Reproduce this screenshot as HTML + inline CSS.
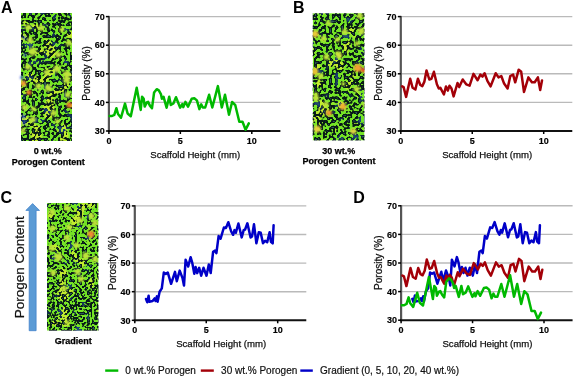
<!DOCTYPE html>
<html><head><meta charset="utf-8"><style>
html,body{margin:0;padding:0;background:#fff;width:575px;height:378px;overflow:hidden}
svg{display:block;will-change:transform}
text{font-family:"Liberation Sans", sans-serif;fill:#000}
.pl{font-size:16px;font-weight:bold}
.tl{font-size:9px;font-weight:bold;stroke:#000;stroke-width:0.15px}
.at{font-size:9.6px;fill:#111;stroke:#111;stroke-width:0.25px}
.at2{font-size:10px;fill:#111;stroke:#111;stroke-width:0.25px}
.cap{font-size:9px;font-weight:bold;stroke:#000;stroke-width:0.25px}
.big{font-size:13.5px;fill:#111;stroke:#111;stroke-width:0.2px}
.lg{font-size:10px;fill:#111;stroke:#111;stroke-width:0.2px}
</style></head><body>
<svg width="575" height="378" viewBox="0 0 575 378">
<defs>
<filter id="fa" x="0" y="0" width="1" height="1" color-interpolation-filters="sRGB">
<feTurbulence type="fractalNoise" baseFrequency="0.340" numOctaves="1" seed="2" result="n1"/>
<feTurbulence type="fractalNoise" baseFrequency="0.07" numOctaves="2" seed="9" result="n2"/>
<feTurbulence type="fractalNoise" baseFrequency="0.12" numOctaves="1" seed="15" result="n3"/>
<feColorMatrix in="n2" type="matrix" values="0 0 0 0 0.76  0 0 0 0 0.92  0 0 0 0 0.18  9 0 0 0 -5.20" result="yel"/>
<feComposite in="yel" in2="SourceGraphic" operator="over" result="base"/>
<feColorMatrix in="n1" type="matrix" values="0 0 0 0 0.03  0 0 0 0 0.10  0 0 0 0 0.09  -16 0 0 0 8.560" result="dk"/>
<feColorMatrix in="n1" type="matrix" values="0 0 0 0 0.16  0 0 0 0 0.34  0 0 0 0 0.36  -20 0 0 0 6.300" result="ct"/>
<feColorMatrix in="n3" type="matrix" values="0 0 0 0 0.10  0 0 0 0 0.26  0 0 0 0 0.50  5 0 0 0 -2.8" result="bl"/>
<feComposite in="bl" in2="dk" operator="in" result="bl2"/>
<feComposite in="dk" in2="base" operator="over" result="m"/>
<feComposite in="bl2" in2="m" operator="over" result="m2"/>
<feComposite in="ct" in2="m2" operator="over" result="m3"/>
<feGaussianBlur in="m3" stdDeviation="0.75" result="bm"/>
<feComposite in="bm" in2="SourceGraphic" operator="in"/>
</filter>
<filter id="fb" x="0" y="0" width="1" height="1" color-interpolation-filters="sRGB">
<feTurbulence type="fractalNoise" baseFrequency="0.340" numOctaves="1" seed="5" result="n1"/>
<feTurbulence type="fractalNoise" baseFrequency="0.07" numOctaves="2" seed="12" result="n2"/>
<feTurbulence type="fractalNoise" baseFrequency="0.12" numOctaves="1" seed="18" result="n3"/>
<feColorMatrix in="n2" type="matrix" values="0 0 0 0 0.76  0 0 0 0 0.92  0 0 0 0 0.18  9 0 0 0 -5.20" result="yel"/>
<feComposite in="yel" in2="SourceGraphic" operator="over" result="base"/>
<feColorMatrix in="n1" type="matrix" values="0 0 0 0 0.03  0 0 0 0 0.10  0 0 0 0 0.09  -16 0 0 0 8.560" result="dk"/>
<feColorMatrix in="n1" type="matrix" values="0 0 0 0 0.16  0 0 0 0 0.34  0 0 0 0 0.36  -20 0 0 0 6.300" result="ct"/>
<feColorMatrix in="n3" type="matrix" values="0 0 0 0 0.10  0 0 0 0 0.26  0 0 0 0 0.50  5 0 0 0 -2.8" result="bl"/>
<feComposite in="bl" in2="dk" operator="in" result="bl2"/>
<feComposite in="dk" in2="base" operator="over" result="m"/>
<feComposite in="bl2" in2="m" operator="over" result="m2"/>
<feComposite in="ct" in2="m2" operator="over" result="m3"/>
<feGaussianBlur in="m3" stdDeviation="0.75" result="bm"/>
<feComposite in="bm" in2="SourceGraphic" operator="in"/>
</filter>
<filter id="fc1" x="0" y="0" width="1" height="1" color-interpolation-filters="sRGB">
<feTurbulence type="fractalNoise" baseFrequency="0.400" numOctaves="1" seed="9" result="n1"/>
<feTurbulence type="fractalNoise" baseFrequency="0.07" numOctaves="2" seed="16" result="n2"/>
<feTurbulence type="fractalNoise" baseFrequency="0.12" numOctaves="1" seed="22" result="n3"/>
<feColorMatrix in="n2" type="matrix" values="0 0 0 0 0.76  0 0 0 0 0.92  0 0 0 0 0.18  9 0 0 0 -5.20" result="yel"/>
<feComposite in="yel" in2="SourceGraphic" operator="over" result="base"/>
<feColorMatrix in="n1" type="matrix" values="0 0 0 0 0.03  0 0 0 0 0.10  0 0 0 0 0.09  -16 0 0 0 7.840" result="dk"/>
<feColorMatrix in="n1" type="matrix" values="0 0 0 0 0.16  0 0 0 0 0.34  0 0 0 0 0.36  -20 0 0 0 5.400" result="ct"/>
<feColorMatrix in="n3" type="matrix" values="0 0 0 0 0.10  0 0 0 0 0.26  0 0 0 0 0.50  5 0 0 0 -2.8" result="bl"/>
<feComposite in="bl" in2="dk" operator="in" result="bl2"/>
<feComposite in="dk" in2="base" operator="over" result="m"/>
<feComposite in="bl2" in2="m" operator="over" result="m2"/>
<feComposite in="ct" in2="m2" operator="over" result="m3"/>
<feGaussianBlur in="m3" stdDeviation="0.75" result="bm"/>
<feComposite in="bm" in2="SourceGraphic" operator="in"/>
</filter>
<filter id="fc2" x="0" y="0" width="1" height="1" color-interpolation-filters="sRGB">
<feTurbulence type="fractalNoise" baseFrequency="0.400" numOctaves="1" seed="9" result="n1"/>
<feTurbulence type="fractalNoise" baseFrequency="0.07" numOctaves="2" seed="16" result="n2"/>
<feTurbulence type="fractalNoise" baseFrequency="0.12" numOctaves="1" seed="22" result="n3"/>
<feColorMatrix in="n2" type="matrix" values="0 0 0 0 0.76  0 0 0 0 0.92  0 0 0 0 0.18  9 0 0 0 -5.20" result="yel"/>
<feComposite in="yel" in2="SourceGraphic" operator="over" result="base"/>
<feColorMatrix in="n1" type="matrix" values="0 0 0 0 0.03  0 0 0 0 0.10  0 0 0 0 0.09  -16 0 0 0 8.240" result="dk"/>
<feColorMatrix in="n1" type="matrix" values="0 0 0 0 0.16  0 0 0 0 0.34  0 0 0 0 0.36  -20 0 0 0 5.900" result="ct"/>
<feColorMatrix in="n3" type="matrix" values="0 0 0 0 0.10  0 0 0 0 0.26  0 0 0 0 0.50  5 0 0 0 -2.8" result="bl"/>
<feComposite in="bl" in2="dk" operator="in" result="bl2"/>
<feComposite in="dk" in2="base" operator="over" result="m"/>
<feComposite in="bl2" in2="m" operator="over" result="m2"/>
<feComposite in="ct" in2="m2" operator="over" result="m3"/>
<feGaussianBlur in="m3" stdDeviation="0.75" result="bm"/>
<feComposite in="bm" in2="SourceGraphic" operator="in"/>
</filter>
<filter id="fc3" x="0" y="0" width="1" height="1" color-interpolation-filters="sRGB">
<feTurbulence type="fractalNoise" baseFrequency="0.400" numOctaves="1" seed="9" result="n1"/>
<feTurbulence type="fractalNoise" baseFrequency="0.07" numOctaves="2" seed="16" result="n2"/>
<feTurbulence type="fractalNoise" baseFrequency="0.12" numOctaves="1" seed="22" result="n3"/>
<feColorMatrix in="n2" type="matrix" values="0 0 0 0 0.76  0 0 0 0 0.92  0 0 0 0 0.18  9 0 0 0 -5.20" result="yel"/>
<feComposite in="yel" in2="SourceGraphic" operator="over" result="base"/>
<feColorMatrix in="n1" type="matrix" values="0 0 0 0 0.03  0 0 0 0 0.10  0 0 0 0 0.09  -16 0 0 0 8.640" result="dk"/>
<feColorMatrix in="n1" type="matrix" values="0 0 0 0 0.16  0 0 0 0 0.34  0 0 0 0 0.36  -20 0 0 0 6.400" result="ct"/>
<feColorMatrix in="n3" type="matrix" values="0 0 0 0 0.10  0 0 0 0 0.26  0 0 0 0 0.50  5 0 0 0 -2.8" result="bl"/>
<feComposite in="bl" in2="dk" operator="in" result="bl2"/>
<feComposite in="dk" in2="base" operator="over" result="m"/>
<feComposite in="bl2" in2="m" operator="over" result="m2"/>
<feComposite in="ct" in2="m2" operator="over" result="m3"/>
<feGaussianBlur in="m3" stdDeviation="0.75" result="bm"/>
<feComposite in="bm" in2="SourceGraphic" operator="in"/>
</filter>
<filter id="sb" x="-1" y="-1" width="3" height="3"><feGaussianBlur stdDeviation="0.9"/></filter>
<path id="pg" d="M0.7 -14.9 L3.1 -15.0 L5.4 -16.2 L7.5 -22.8 L9.1 -17.0 L12.1 -13.3 L16.1 -27.4 L18.7 -17.5 L21.9 -14.7 L27.8 -43.3 L31.8 -21.1 L33.2 -34.3 L34.8 -32.2 L35.8 -24.4 L37.9 -28.6 L39.2 -29.1 L41.0 -25.4 L43.1 -22.8 L45.2 -38.5 L47.8 -41.8 L49.9 -40.6 L52.0 -36.9 L53.0 -32.2 L54.6 -34.3 L57.7 -23.3 L60.3 -34.3 L61.9 -26.0 L64.5 -27.5 L67.1 -33.8 L71.3 -23.3 L73.4 -27.0 L74.4 -23.9 L76.5 -29.1 L79.1 -24.4 L82.8 -32.2 L85.4 -32.7 L88.0 -30.6 L90.5 -21.9 L92.3 -26.6 L93.9 -23.5 L96.3 -23.5 L100.2 -36.2 L103.4 -23.5 L109.0 -44.9 L112.9 -23.5 L116.1 -36.2 L120.1 -16.3 L123.2 -29.0 L126.4 -25.8 L130.4 -9.2 L133.6 -9.2 L136.7 -1.2 L139.9 -7.6"/>
<path id="pr" d="M1.4 -44.6 L2.8 -43.9 L5.3 -34.1 L9.4 -52.2 L11.8 -43.2 L14.6 -41.5 L17.1 -52.2 L19.5 -46.0 L21.5 -44.9 L23.6 -49.4 L25.7 -60.6 L28.5 -51.5 L30.6 -52.2 L33.1 -59.2 L36.1 -46.7 L38.0 -42.5 L39.6 -43.2 L43.1 -36.5 L45.2 -44.6 L47.0 -40.4 L48.7 -45.3 L50.7 -42.5 L52.8 -34.6 L56.7 -48.0 L58.4 -43.9 L61.9 -51.5 L65.4 -46.7 L68.8 -45.3 L72.7 -57.1 L76.8 -50.8 L79.6 -56.4 L81.7 -54.3 L83.8 -57.8 L86.6 -50.1 L89.8 -44.6 L94.9 -57.8 L97.7 -53.6 L100.5 -55.0 L103.3 -47.4 L106.8 -42.5 L109.5 -55.0 L112.3 -56.4 L114.4 -48.7 L117.9 -61.3 L120.4 -59.2 L123.2 -39.0 L127.6 -53.6 L131.1 -48.7 L133.9 -48.7 L137.1 -53.6 L139.4 -41.1 L141.2 -50.4"/>
<path id="pb" d="M11.2 -21.3 L12.5 -18.0 L13.8 -24.6 L14.5 -18.6 L17.8 -19.3 L19.8 -21.9 L20.8 -19.3 L22.1 -23.9 L22.8 -18.6 L24.8 -28.6 L27.0 -31.9 L29.0 -47.7 L31.0 -46.4 L33.0 -47.7 L36.3 -36.5 L40.2 -48.4 L42.0 -39.1 L44.9 -49.7 L47.8 -41.9 L49.2 -34.7 L50.8 -60.5 L53.4 -53.8 L55.8 -63.1 L57.4 -57.8 L59.5 -46.6 L60.8 -53.2 L62.4 -47.2 L64.4 -52.5 L66.4 -44.6 L68.7 -52.5 L71.7 -44.6 L74.0 -55.8 L75.9 -47.2 L78.3 -68.4 L80.3 -69.7 L81.6 -67.1 L83.8 -84.2 L85.8 -81.6 L89.1 -92.8 L91.1 -92.2 L93.5 -98.1 L96.4 -88.8 L98.3 -85.5 L99.7 -90.2 L101.0 -87.5 L103.6 -96.8 L106.9 -82.9 L108.9 -90.2 L110.3 -90.8 L112.6 -97.0 L115.8 -82.8 L117.2 -83.8 L119.2 -96.0 L121.6 -77.0 L124.0 -88.1 L125.9 -87.5 L128.2 -77.0 L130.3 -79.6 L132.4 -78.0 L134.8 -88.1 L136.1 -78.6 L137.9 -77.0 L138.8 -95.0"/>
</defs>
<rect width="575" height="378" fill="#fff"/>
<text x="1" y="12.6" class="pl">A</text>
<text x="293" y="12.5" class="pl">B</text>
<text x="0.6" y="202.5" class="pl">C</text>
<text x="353.3" y="202.5" class="pl">D</text>
<filter id="pblur" x="-0.2" y="-0.2" width="1.4" height="1.4"><feGaussianBlur stdDeviation="0.9"/></filter>
<clipPath id="ca"><rect x="21" y="13" width="51" height="128"/></clipPath><rect x="21" y="13" width="51" height="128" fill="#74e426" filter="url(#fa)"/><g clip-path="url(#ca)"><g filter="url(#pblur)"><circle cx="28.3" cy="27.2" r="3" fill="#bfe23a"/><circle cx="41" cy="27.9" r="3" fill="#bfe23a"/><circle cx="61.9" cy="29.8" r="2.5" fill="#bfe23a"/><circle cx="68.9" cy="43.1" r="3" fill="#bfe23a"/><circle cx="32.7" cy="51.4" r="4" fill="#bfe23a"/><circle cx="58.1" cy="54.6" r="3" fill="#bfe23a"/><circle cx="30.2" cy="40.6" r="3" fill="#bfe23a"/><circle cx="27.8" cy="66.9" r="3" fill="#bfe23a"/><circle cx="46.7" cy="72.4" r="3" fill="#bfe23a"/><circle cx="56.7" cy="69.1" r="3.5" fill="#bfe23a"/><circle cx="66.7" cy="74" r="3.5" fill="#bfe23a"/><circle cx="66.7" cy="80" r="3.5" fill="#bfe23a"/><circle cx="38.3" cy="86.3" r="3" fill="#bfe23a"/><circle cx="48.3" cy="88" r="3.5" fill="#bfe23a"/><circle cx="67.8" cy="94.7" r="3" fill="#bfe23a"/><circle cx="24.7" cy="107.3" r="3" fill="#bfe23a"/><circle cx="33.4" cy="109" r="2.5" fill="#bfe23a"/><circle cx="53.7" cy="113.1" r="3" fill="#bfe23a"/><circle cx="32.8" cy="119.5" r="3" fill="#bfe23a"/><circle cx="57.2" cy="121.3" r="2.5" fill="#bfe23a"/><circle cx="22.9" cy="130.6" r="2.5" fill="#bfe23a"/><circle cx="23.3" cy="83.6" r="3" fill="#f0a030"/><circle cx="28.9" cy="92.4" r="2.6" fill="#e87a28"/><circle cx="69.4" cy="105" r="3" fill="#e87a28"/></g></g>
<clipPath id="cb"><rect x="312.7" y="13.2" width="51.8" height="127.3"/></clipPath><rect x="312.7" y="13.2" width="51.8" height="127.3" fill="#74e426" filter="url(#fb)"/><g clip-path="url(#cb)"><g filter="url(#pblur)"><circle cx="315.2" cy="34.1" r="3.5" fill="#e8c838"/><circle cx="360" cy="16" r="3" fill="#bfe23a"/><circle cx="361.2" cy="31.2" r="3.5" fill="#bfe23a"/><circle cx="344.9" cy="31.8" r="3" fill="#bfe23a"/><circle cx="323.4" cy="38.8" r="3" fill="#bfe23a"/><circle cx="337.4" cy="39.4" r="2.5" fill="#bfe23a"/><circle cx="357.1" cy="43.4" r="2.5" fill="#bfe23a"/><circle cx="338" cy="53.9" r="3" fill="#bfe23a"/><circle cx="328.6" cy="23.1" r="2.5" fill="#bfe23a"/><circle cx="339.1" cy="55.7" r="3" fill="#d2e03c"/><circle cx="357.7" cy="68" r="4" fill="#f0a030"/><circle cx="363.5" cy="70.3" r="2.5" fill="#e85020"/><circle cx="314.7" cy="71.5" r="3.5" fill="#e8c030"/><circle cx="320.5" cy="76.1" r="3" fill="#bfe23a"/><circle cx="326.3" cy="56.9" r="3" fill="#bfe23a"/><circle cx="343.2" cy="83.7" r="2" fill="#bfe23a"/><circle cx="356.6" cy="88.9" r="3" fill="#bfe23a"/><circle cx="315.8" cy="94.7" r="2.5" fill="#bfe23a"/><circle cx="342.9" cy="106.4" r="3.5" fill="#f0b030"/><circle cx="328.9" cy="113" r="3" fill="#f09a30"/><circle cx="317.3" cy="128.9" r="3.5" fill="#e8d040"/><circle cx="353.2" cy="131.3" r="3" fill="#e0d040"/><circle cx="325.8" cy="104.5" r="3" fill="#bfe23a"/><circle cx="316.1" cy="98.4" r="3" fill="#bfe23a"/><circle cx="363.6" cy="103.9" r="2" fill="#bfe23a"/></g></g>
<clipPath id="cc1"><rect x="47" y="203" width="51.5" height="42"/></clipPath><rect x="47" y="203" width="51.5" height="42" fill="#74e426" filter="url(#fc1)"/><g clip-path="url(#cc1)"><g filter="url(#pblur)"><circle cx="52" cy="212" r="3" fill="#bfe23a"/><circle cx="67.1" cy="208" r="3" fill="#bfe23a"/><circle cx="79.9" cy="220.2" r="3" fill="#bfe23a"/><circle cx="91.6" cy="216.1" r="3" fill="#bfe23a"/><circle cx="95" cy="223.1" r="3" fill="#bfe23a"/><circle cx="52.6" cy="228.4" r="3" fill="#bfe23a"/><circle cx="69.4" cy="227.2" r="3" fill="#bfe23a"/><circle cx="67.1" cy="237.7" r="3" fill="#bfe23a"/><circle cx="91" cy="234.2" r="3.5" fill="#f08a30"/><circle cx="52" cy="248.2" r="3" fill="#bfe23a"/><circle cx="76.4" cy="245.3" r="3" fill="#bfe23a"/></g></g>
<clipPath id="cc2"><rect x="47" y="245" width="51.5" height="42"/></clipPath><rect x="47" y="245" width="51.5" height="42" fill="#74e426" filter="url(#fc2)"/><g clip-path="url(#cc2)"><g filter="url(#pblur)"><circle cx="58.4" cy="257" r="4" fill="#bfe23a"/><circle cx="85.7" cy="255.8" r="3.5" fill="#bfe23a"/><circle cx="95" cy="259.3" r="3" fill="#bfe23a"/><circle cx="77.6" cy="272.1" r="3" fill="#bfe23a"/><circle cx="53.1" cy="272.7" r="3" fill="#bfe23a"/><circle cx="81.1" cy="279.1" r="3" fill="#bfe23a"/><circle cx="52" cy="248.2" r="3" fill="#bfe23a"/><circle cx="76.4" cy="245.3" r="3" fill="#bfe23a"/><circle cx="64" cy="288.8" r="3" fill="#bfe23a"/></g></g>
<clipPath id="cc3"><rect x="47" y="287" width="51.5" height="43.7"/></clipPath><rect x="47" y="287" width="51.5" height="43.7" fill="#74e426" filter="url(#fc3)"/><g clip-path="url(#cc3)"><g filter="url(#pblur)"><circle cx="64" cy="288.8" r="3" fill="#bfe23a"/><circle cx="67.2" cy="322.5" r="2.5" fill="#bfe23a"/></g></g>
<g filter="url(#sb)"><circle cx="24" cy="37.8" r="1.5" fill="#2040d0"/><circle cx="25" cy="55" r="1.4" fill="#2040d0"/><circle cx="21.8" cy="77.4" r="1.6" fill="#2040d0"/><circle cx="23.5" cy="116.6" r="1.8" fill="#2040d0"/><circle cx="24" cy="123" r="1.5" fill="#2040d0"/></g>
<text x="47.8" y="154.1" text-anchor="middle" class="cap">0 wt.%</text>
<text x="48.3" y="164.6" text-anchor="middle" class="cap">Porogen Content</text>
<text x="338.8" y="153.9" text-anchor="middle" class="cap">30 wt.%</text>
<text x="339" y="164.3" text-anchor="middle" class="cap">Porogen Content</text>
<text x="73.3" y="343.9" text-anchor="middle" class="cap">Gradient</text>
<path d="M29.2 330.7 L29.2 210.4 L25.9 210.4 L32.6 203.6 L39.5 210.4 L36.1 210.4 L36.1 330.7 Z" fill="#5b9bd5" stroke="#4283cc" stroke-width="0.8" stroke-linejoin="miter"/>
<text transform="translate(24.4 267.3) rotate(-90)" text-anchor="middle" class="big">Porogen Content</text>
<line x1="108.9" y1="102.40" x2="280.4" y2="102.40" stroke="#bababa" stroke-width="1.4"/>
<line x1="108.9" y1="73.80" x2="280.4" y2="73.80" stroke="#bababa" stroke-width="1.4"/>
<line x1="108.9" y1="45.20" x2="280.4" y2="45.20" stroke="#bababa" stroke-width="1.4"/>
<line x1="108.9" y1="16.60" x2="280.4" y2="16.60" stroke="#bababa" stroke-width="1.4"/>
<line x1="108.90" y1="15.90" x2="108.90" y2="132.00" stroke="#555" stroke-width="2.2"/>
<line x1="107.90" y1="131.00" x2="280.38" y2="131.00" stroke="#111" stroke-width="2.1"/>
<line x1="105.90" y1="131.00" x2="108.90" y2="131.00" stroke="#000" stroke-width="1.5"/>
<text x="104.70" y="134.20" text-anchor="end" class="tl">30</text>
<line x1="105.90" y1="102.40" x2="108.90" y2="102.40" stroke="#000" stroke-width="1.5"/>
<text x="104.70" y="105.60" text-anchor="end" class="tl">40</text>
<line x1="105.90" y1="73.80" x2="108.90" y2="73.80" stroke="#000" stroke-width="1.5"/>
<text x="104.70" y="77.00" text-anchor="end" class="tl">50</text>
<line x1="105.90" y1="45.20" x2="108.90" y2="45.20" stroke="#000" stroke-width="1.5"/>
<text x="104.70" y="48.40" text-anchor="end" class="tl">60</text>
<line x1="105.90" y1="16.60" x2="108.90" y2="16.60" stroke="#000" stroke-width="1.5"/>
<text x="104.70" y="19.80" text-anchor="end" class="tl">70</text>
<line x1="108.90" y1="131.00" x2="108.90" y2="134.00" stroke="#000" stroke-width="1.5"/>
<text x="108.90" y="144.00" text-anchor="middle" class="tl">0</text>
<line x1="180.35" y1="131.00" x2="180.35" y2="134.00" stroke="#000" stroke-width="1.5"/>
<text x="180.35" y="144.00" text-anchor="middle" class="tl">5</text>
<line x1="251.80" y1="131.00" x2="251.80" y2="134.00" stroke="#000" stroke-width="1.5"/>
<text x="251.80" y="144.00" text-anchor="middle" class="tl">10</text>
<text x="195.24" y="157.60" text-anchor="middle" class="at">Scaffold Height (mm)</text>
<text transform="translate(89.60 73.50) rotate(-90)" text-anchor="middle" class="at2">Porosity (%)</text>
<line x1="400.8" y1="102.40" x2="572.3" y2="102.40" stroke="#bababa" stroke-width="1.4"/>
<line x1="400.8" y1="73.80" x2="572.3" y2="73.80" stroke="#bababa" stroke-width="1.4"/>
<line x1="400.8" y1="45.20" x2="572.3" y2="45.20" stroke="#bababa" stroke-width="1.4"/>
<line x1="400.8" y1="16.60" x2="572.3" y2="16.60" stroke="#bababa" stroke-width="1.4"/>
<line x1="400.80" y1="15.90" x2="400.80" y2="132.00" stroke="#555" stroke-width="2.2"/>
<line x1="399.80" y1="131.00" x2="572.28" y2="131.00" stroke="#111" stroke-width="2.1"/>
<line x1="397.80" y1="131.00" x2="400.80" y2="131.00" stroke="#000" stroke-width="1.5"/>
<text x="396.60" y="134.20" text-anchor="end" class="tl">30</text>
<line x1="397.80" y1="102.40" x2="400.80" y2="102.40" stroke="#000" stroke-width="1.5"/>
<text x="396.60" y="105.60" text-anchor="end" class="tl">40</text>
<line x1="397.80" y1="73.80" x2="400.80" y2="73.80" stroke="#000" stroke-width="1.5"/>
<text x="396.60" y="77.00" text-anchor="end" class="tl">50</text>
<line x1="397.80" y1="45.20" x2="400.80" y2="45.20" stroke="#000" stroke-width="1.5"/>
<text x="396.60" y="48.40" text-anchor="end" class="tl">60</text>
<line x1="397.80" y1="16.60" x2="400.80" y2="16.60" stroke="#000" stroke-width="1.5"/>
<text x="396.60" y="19.80" text-anchor="end" class="tl">70</text>
<line x1="400.80" y1="131.00" x2="400.80" y2="134.00" stroke="#000" stroke-width="1.5"/>
<text x="400.80" y="144.00" text-anchor="middle" class="tl">0</text>
<line x1="472.25" y1="131.00" x2="472.25" y2="134.00" stroke="#000" stroke-width="1.5"/>
<text x="472.25" y="144.00" text-anchor="middle" class="tl">5</text>
<line x1="543.70" y1="131.00" x2="543.70" y2="134.00" stroke="#000" stroke-width="1.5"/>
<text x="543.70" y="144.00" text-anchor="middle" class="tl">10</text>
<text x="487.14" y="157.60" text-anchor="middle" class="at">Scaffold Height (mm)</text>
<text transform="translate(381.50 73.50) rotate(-90)" text-anchor="middle" class="at2">Porosity (%)</text>
<line x1="134.8" y1="291.70" x2="306.3" y2="291.70" stroke="#bababa" stroke-width="1.4"/>
<line x1="134.8" y1="263.10" x2="306.3" y2="263.10" stroke="#bababa" stroke-width="1.4"/>
<line x1="134.8" y1="234.50" x2="306.3" y2="234.50" stroke="#bababa" stroke-width="1.4"/>
<line x1="134.8" y1="205.90" x2="306.3" y2="205.90" stroke="#bababa" stroke-width="1.4"/>
<line x1="134.80" y1="205.20" x2="134.80" y2="321.30" stroke="#555" stroke-width="2.2"/>
<line x1="133.80" y1="320.30" x2="306.28" y2="320.30" stroke="#111" stroke-width="2.1"/>
<line x1="131.80" y1="320.30" x2="134.80" y2="320.30" stroke="#000" stroke-width="1.5"/>
<text x="130.60" y="323.50" text-anchor="end" class="tl">30</text>
<line x1="131.80" y1="291.70" x2="134.80" y2="291.70" stroke="#000" stroke-width="1.5"/>
<text x="130.60" y="294.90" text-anchor="end" class="tl">40</text>
<line x1="131.80" y1="263.10" x2="134.80" y2="263.10" stroke="#000" stroke-width="1.5"/>
<text x="130.60" y="266.30" text-anchor="end" class="tl">50</text>
<line x1="131.80" y1="234.50" x2="134.80" y2="234.50" stroke="#000" stroke-width="1.5"/>
<text x="130.60" y="237.70" text-anchor="end" class="tl">60</text>
<line x1="131.80" y1="205.90" x2="134.80" y2="205.90" stroke="#000" stroke-width="1.5"/>
<text x="130.60" y="209.10" text-anchor="end" class="tl">70</text>
<line x1="134.80" y1="320.30" x2="134.80" y2="323.30" stroke="#000" stroke-width="1.5"/>
<text x="134.80" y="333.30" text-anchor="middle" class="tl">0</text>
<line x1="206.25" y1="320.30" x2="206.25" y2="323.30" stroke="#000" stroke-width="1.5"/>
<text x="206.25" y="333.30" text-anchor="middle" class="tl">5</text>
<line x1="277.70" y1="320.30" x2="277.70" y2="323.30" stroke="#000" stroke-width="1.5"/>
<text x="277.70" y="333.30" text-anchor="middle" class="tl">10</text>
<text x="221.14" y="347.30" text-anchor="middle" class="at">Scaffold Height (mm)</text>
<text transform="translate(115.50 262.80) rotate(-90)" text-anchor="middle" class="at2">Porosity (%)</text>
<line x1="401.1" y1="291.60" x2="572.6" y2="291.60" stroke="#bababa" stroke-width="1.4"/>
<line x1="401.1" y1="263.00" x2="572.6" y2="263.00" stroke="#bababa" stroke-width="1.4"/>
<line x1="401.1" y1="234.40" x2="572.6" y2="234.40" stroke="#bababa" stroke-width="1.4"/>
<line x1="401.1" y1="205.80" x2="572.6" y2="205.80" stroke="#bababa" stroke-width="1.4"/>
<line x1="401.10" y1="205.10" x2="401.10" y2="321.20" stroke="#555" stroke-width="2.2"/>
<line x1="400.10" y1="320.20" x2="572.58" y2="320.20" stroke="#111" stroke-width="2.1"/>
<line x1="398.10" y1="320.20" x2="401.10" y2="320.20" stroke="#000" stroke-width="1.5"/>
<text x="396.90" y="323.40" text-anchor="end" class="tl">30</text>
<line x1="398.10" y1="291.60" x2="401.10" y2="291.60" stroke="#000" stroke-width="1.5"/>
<text x="396.90" y="294.80" text-anchor="end" class="tl">40</text>
<line x1="398.10" y1="263.00" x2="401.10" y2="263.00" stroke="#000" stroke-width="1.5"/>
<text x="396.90" y="266.20" text-anchor="end" class="tl">50</text>
<line x1="398.10" y1="234.40" x2="401.10" y2="234.40" stroke="#000" stroke-width="1.5"/>
<text x="396.90" y="237.60" text-anchor="end" class="tl">60</text>
<line x1="398.10" y1="205.80" x2="401.10" y2="205.80" stroke="#000" stroke-width="1.5"/>
<text x="396.90" y="209.00" text-anchor="end" class="tl">70</text>
<line x1="401.10" y1="320.20" x2="401.10" y2="323.20" stroke="#000" stroke-width="1.5"/>
<text x="401.10" y="333.20" text-anchor="middle" class="tl">0</text>
<line x1="472.55" y1="320.20" x2="472.55" y2="323.20" stroke="#000" stroke-width="1.5"/>
<text x="472.55" y="333.20" text-anchor="middle" class="tl">5</text>
<line x1="544.00" y1="320.20" x2="544.00" y2="323.20" stroke="#000" stroke-width="1.5"/>
<text x="544.00" y="333.20" text-anchor="middle" class="tl">10</text>
<text x="487.44" y="347.20" text-anchor="middle" class="at">Scaffold Height (mm)</text>
<text transform="translate(381.80 262.70) rotate(-90)" text-anchor="middle" class="at2">Porosity (%)</text>
<use href="#pg" transform="translate(108.90 131.00)" fill="none" stroke="#00b900" stroke-width="2.5" stroke-linejoin="round" stroke-linecap="round"/>
<use href="#pr" transform="translate(400.80 131.00)" fill="none" stroke="#a30008" stroke-width="2.5" stroke-linejoin="round" stroke-linecap="round"/>
<use href="#pb" transform="translate(134.80 320.30)" fill="none" stroke="#0000c8" stroke-width="2.5" stroke-linejoin="round" stroke-linecap="round"/>
<use href="#pb" transform="translate(401.10 320.20)" fill="none" stroke="#0000c8" stroke-width="2.5" stroke-linejoin="round" stroke-linecap="round"/>
<use href="#pr" transform="translate(401.10 320.20)" fill="none" stroke="#a30008" stroke-width="2.5" stroke-linejoin="round" stroke-linecap="round"/>
<use href="#pg" transform="translate(401.10 320.20)" fill="none" stroke="#00b900" stroke-width="2.5" stroke-linejoin="round" stroke-linecap="round"/>
<line x1="105.2" y1="370.6" x2="118.3" y2="370.6" stroke="#00b900" stroke-width="2.4"/>
<text x="125.3" y="374.3" class="lg">0 wt.% Porogen</text>
<line x1="200.8" y1="370.6" x2="213.8" y2="370.6" stroke="#a30008" stroke-width="2.4"/>
<text x="221.1" y="374.3" class="lg">30 wt.% Porogen</text>
<line x1="300.3" y1="370.6" x2="312.8" y2="370.6" stroke="#0000c8" stroke-width="2.4"/>
<text x="320.1" y="374.3" class="lg">Gradient (0, 5, 10, 20, 40 wt.%)</text>
</svg>
</body></html>
